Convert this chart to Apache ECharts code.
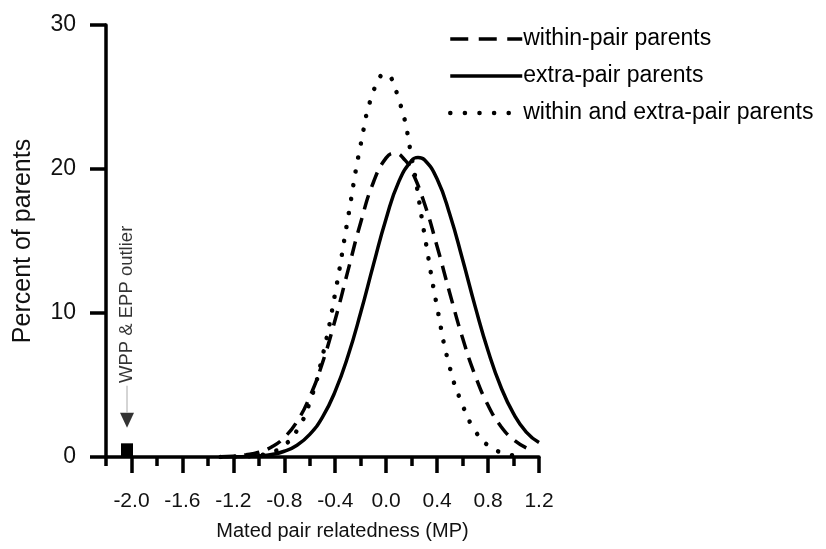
<!DOCTYPE html>
<html>
<head>
<meta charset="utf-8">
<script src="https://cdn.jsdelivr.net/npm/echarts@6/dist/echarts.min.js"></script>
<style>
html,body{margin:0;padding:0;background:#fff;}
#chart{width:826px;height:549px;}
</style>
</head>
<body>
<div id="chart"></div>
<script>
// ---- data ----
const withinX = [-1.3,-1.2,-1.1,-1.0,-0.9,-0.8,-0.7,-0.6,-0.5,-0.4,-0.3,-0.2,-0.1,0.0,0.07,0.15,0.2,0.3,0.4,0.5,0.6,0.7,0.8,0.9,1.0,1.1];
const withinPct = [0.02,0.06,0.15,0.33,0.70,1.36,2.47,4.18,6.55,9.55,12.94,16.29,19.08,20.77,21.10,20.60,19.89,17.62,14.62,11.36,8.26,5.63,3.59,2.14,1.20,0.63];

const extraX = [-1.3,-1.2,-1.1,-1.0,-0.9,-0.8,-0.7,-0.6,-0.5,-0.4,-0.3,-0.2,-0.1,0.0,0.1,0.2,0.25,0.3,0.4,0.5,0.6,0.7,0.8,0.9,1.0,1.1,1.2];
const extraPct = [0.00,0.01,0.03,0.08,0.18,0.40,0.82,1.57,2.77,4.57,7.01,10.03,13.36,16.57,19.14,20.59,20.80,20.64,19.30,16.84,13.71,10.41,7.38,4.88,3.01,1.73,1.00];

const bothX = [-1.3,-1.2,-1.1,-1.0,-0.9,-0.8,-0.7,-0.6,-0.5,-0.4,-0.3,-0.2,-0.1,-0.01,0.1,0.2,0.3,0.4,0.5,0.6,0.7,0.8,0.9,1.0];
const bothPct = [0.00,0.01,0.04,0.11,0.32,0.81,1.85,3.80,7.00,11.40,16.60,21.70,25.40,26.60,24.80,20.80,15.50,10.40,6.20,3.60,1.80,0.80,0.32,0.11];

const seriesNames = ['within-pair parents','extra-pair parents','within and extra-pair parents'];

const outlierX = [-2.035];
const outlierPct = [0.95];
const arrowPct = [2.55];
const arrowLinePct = [3.1, 4.95];
const outlierLabelPct = [10.6];
const outlierLabel = 'WPP & EPP outlier';

const xMajorTicks = [-2.0,-1.6,-1.2,-0.8,-0.4,0.0,0.4,0.8,1.2];
const xMinorTicks = [-2.2,-1.8,-1.4,-1.0,-0.6,-0.2,0.2,0.6,1.0];
const yTicks = [0,10,20,30];
const xTitle = 'Mated pair relatedness (MP)';
const yTitle = 'Percent of parents';

// ---- chart ----
const FONT = "'Liberation Sans', Arial, sans-serif";
const pairs = (xs, ys) => xs.map((x, i) => [x, ys[i]]);
const chart = echarts.init(document.getElementById('chart'), null, {renderer: 'canvas'});

const baseAxis = {
  type: 'value', min: -2.2, max: 1.2, splitLine: {show: false}
};
const legendLines = [
  {color: '#000', width: 3.5, type: [18, 10.5]},
  {color: '#000', width: 3.5, type: 'solid'},
  {color: '#000', width: 4.5, type: [0.1, 14.5], cap: 'round'}
];

chart.setOption({
  animation: false,
  backgroundColor: '#ffffff',
  grid: {left: 106, right: 287, top: 25, bottom: 92, containLabel: false},
  legend: {
    data: seriesNames.map((n, i) => ({name: n, lineStyle: legendLines[i]})),
    orient: 'vertical',
    left: 443,
    top: 22,
    itemWidth: 72,
    itemHeight: 14,
    itemGap: 13,
    itemStyle: {color: 'rgba(0,0,0,0)', borderColor: 'rgba(0,0,0,0)', borderWidth: 0, opacity: 0},
    textStyle: {fontFamily: FONT, fontSize: 23, color: '#000', lineHeight: 24, padding: [0,0,0,-4]},
    inactiveColor: '#000'
  },
  xAxis: [
    Object.assign({}, baseAxis, {
      position: 'bottom',
      axisLine: {show: true, onZero: false, lineStyle: {color: '#000', width: 3.5}},
      axisTick: {show: true, length: 16, lineStyle: {color: '#000', width: 3.5}, customValues: xMajorTicks},
      axisLabel: {show: true, customValues: xMajorTicks, margin: 34, fontFamily: FONT, fontSize: 21, color: '#111',
        formatter: v => v.toFixed(1)},
      name: xTitle, nameLocation: 'middle', nameGap: 64,
      nameTextStyle: {fontFamily: FONT, fontSize: 20, color: '#111', padding: [0,0,0,40]}
    }),
    Object.assign({}, baseAxis, {
      position: 'bottom',
      axisLine: {show: false, onZero: false},
      axisTick: {show: true, length: 9, lineStyle: {color: '#000', width: 3.5}, customValues: xMinorTicks},
      axisLabel: {show: false}
    })
  ],
  yAxis: {
    type: 'value', min: 0, max: 30, interval: 10,
    splitLine: {show: false},
    axisLine: {show: true, onZero: false, lineStyle: {color: '#000', width: 3.5}},
    axisTick: {show: true, length: 16, lineStyle: {color: '#000', width: 3.5}, customValues: yTicks},
    axisLabel: {customValues: yTicks, margin: 30, fontFamily: FONT, fontSize: 23, color: '#111'},
    name: yTitle, nameLocation: 'middle', nameGap: 70,
    nameTextStyle: {fontFamily: FONT, fontSize: 25, color: '#111'}
  },
  series: [
    {
      name: seriesNames[0], type: 'line', xAxisIndex: 0, data: pairs(withinX, withinPct),
      smooth: true, symbol: 'none', showSymbol: false,
      lineStyle: {color: '#000', width: 3.5, type: [15, 9]}, itemStyle: {color: '#000'}, z: 3
    },
    {
      name: seriesNames[1], type: 'line', xAxisIndex: 0, data: pairs(extraX, extraPct),
      smooth: true, symbol: 'none', showSymbol: false,
      lineStyle: {color: '#000', width: 3.5, type: 'solid'}, itemStyle: {color: '#000'}, z: 3
    },
    {
      name: seriesNames[2], type: 'line', xAxisIndex: 0, data: pairs(bothX, bothPct),
      smooth: true, symbol: 'none', showSymbol: false,
      lineStyle: {color: '#000', width: 4.5, type: [0.1, 14], cap: 'round'}, itemStyle: {color: '#000'}, z: 3
    },
    {
      name: 'outlier', type: 'bar', xAxisIndex: 0, data: pairs(outlierX, outlierPct),
      barWidth: 12, itemStyle: {color: '#000'}, z: 4
    },
    {
      name: 'arrowLine', type: 'line', xAxisIndex: 0,
      data: arrowLinePct.map(v => [outlierX[0], v]),
      symbol: 'none', lineStyle: {color: '#aaa', width: 1}, z: 2
    },
    {
      name: 'arrow', type: 'scatter', xAxisIndex: 0, data: pairs(outlierX, arrowPct),
      symbol: 'triangle', symbolRotate: 180, symbolSize: [14, 15], itemStyle: {color: '#000'}, z: 4
    },
    {
      name: 'outlierText', type: 'scatter', xAxisIndex: 0, data: pairs(outlierX, outlierLabelPct),
      symbolSize: 1, itemStyle: {color: 'rgba(0,0,0,0)'},
      label: {show: true, position: 'inside', rotate: 90, formatter: outlierLabel,
        fontFamily: FONT, fontSize: 18.5, color: '#000'}, z: 4
    }
  ]
});
</script>
</body>
</html>
